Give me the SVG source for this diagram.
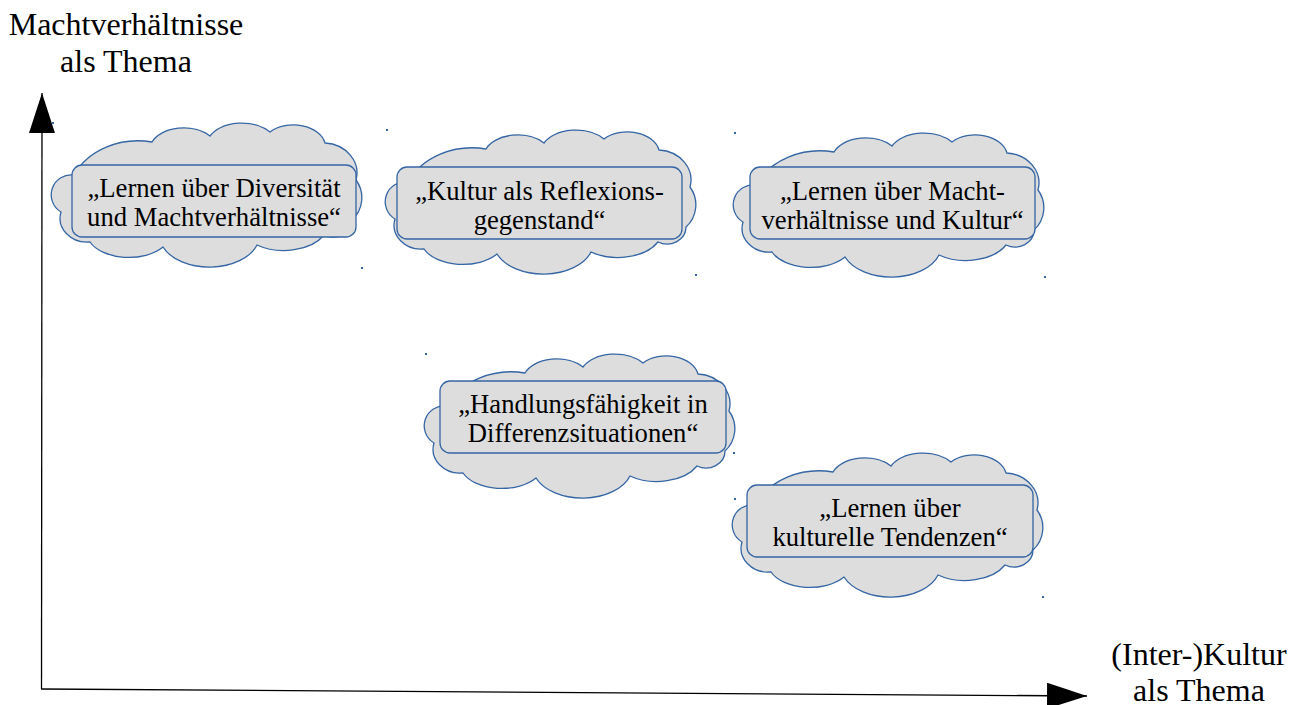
<svg xmlns="http://www.w3.org/2000/svg" xmlns:xlink="http://www.w3.org/1999/xlink" width="1301" height="705" viewBox="0 0 1301 705">
  <style>
    .cloud { fill: #dddddd; stroke: #3465a4; stroke-width: 1.3; }
    .box { fill: #dddddd; stroke: #3465a4; stroke-width: 1.3; }
    .t { font-family: "Liberation Serif", "Times New Roman", serif; font-size: 26.67px; text-anchor: middle; fill: #000; }
    .ax { font-family: "Liberation Serif", "Times New Roman", serif; font-size: 32px; text-anchor: middle; fill: #000; }
    .axis { fill: none; stroke: #000; stroke-width: 1.3; }
    .dot { fill: #3465a4; }
  </style>
  <defs>
    <path id="cloudShape" class="cloud" d="M22,50 A71,60 0 0 1 100,17 A34,22 0 0 1 158,11 A35,22 0 0 1 218,7 A32,22 0 0 1 273,18 A34,30 0 0 1 304,55 A30,30 0 0 1 300,95 A19,17 0 0 1 272,110 A45,28 0 0 1 205,120 A50,32 0 0 1 111,122 A42,25 0 0 1 38,117 A27,24 0 0 1 9,87 A20,20 0 0 1 22,50 Z"/>
    <marker id="arrow" markerUnits="userSpaceOnUse" markerWidth="40" markerHeight="26" viewBox="0 0 40 26" refX="40" refY="13" orient="auto">
      <path d="M0,0 L40,13 L0,26 Z" fill="#000"/>
    </marker>
  </defs>
  <rect width="1301" height="705" fill="#fff"/>

  <g id="connectors">
    <line class="axis" x1="41.5" y1="689" x2="42" y2="93" marker-end="url(#arrow)"/>
    <line class="axis" x1="41" y1="689" x2="1087" y2="696" marker-end="url(#arrow)"/>
  </g>

  <g id="axis-label-y">
    <text class="ax" x="126" y="35">Machtverhältnisse</text>
    <text class="ax" x="126" y="72">als Thema</text>
  </g>
  <g id="axis-label-x">
    <text class="ax" x="1199" y="665">(Inter-)Kultur</text>
    <text class="ax" x="1199" y="701">als Thema</text>
  </g>

  <g id="node1">
    <use xlink:href="#cloudShape" transform="translate(52,125)"/>
    <rect class="box" x="72" y="165" width="284" height="72" rx="10"/>
    <text class="t" x="214" y="197">„Lernen über Diversität</text>
    <text class="t" x="214" y="226">und Machtverhältnisse“</text>
    <rect class="dot" x="52" y="122" width="2" height="2"/>
    <rect class="dot" x="361" y="267" width="2" height="2"/>
  </g>

  <g id="node2">
    <use xlink:href="#cloudShape" transform="translate(386,132)"/>
    <rect class="box" x="397" y="167" width="285" height="72" rx="10"/>
    <text class="t" x="539.5" y="200">„Kultur als Reflexions-</text>
    <text class="t" x="539.5" y="229">gegenstand“</text>
    <rect class="dot" x="386" y="129" width="2" height="2"/>
    <rect class="dot" x="695" y="274" width="2" height="2"/>
  </g>

  <g id="node3">
    <use xlink:href="#cloudShape" transform="translate(734,135)"/>
    <rect class="box" x="750" y="167" width="285" height="72" rx="10"/>
    <text class="t" x="892.5" y="200">„Lernen über Macht-</text>
    <text class="t" x="892.5" y="229">verhältnisse und Kultur“</text>
    <rect class="dot" x="734" y="132" width="2" height="2"/>
    <rect class="dot" x="1044" y="276" width="2" height="2"/>
  </g>

  <g id="node4">
    <use xlink:href="#cloudShape" transform="translate(425,356)"/>
    <rect class="box" x="440" y="381" width="286" height="72" rx="10"/>
    <text class="t" x="583" y="413">„Handlungsfähigkeit in</text>
    <text class="t" x="583" y="442">Differenzsituationen“</text>
    <rect class="dot" x="425" y="353" width="2" height="2"/>
    <rect class="dot" x="734" y="498" width="2" height="2"/>
  </g>

  <g id="node5">
    <use xlink:href="#cloudShape" transform="translate(733,455)"/>
    <rect class="box" x="747" y="485" width="286" height="72" rx="10"/>
    <text class="t" x="890" y="517">„Lernen über</text>
    <text class="t" x="890" y="546">kulturelle Tendenzen“</text>
    <rect class="dot" x="733" y="452" width="2" height="2"/>
    <rect class="dot" x="1042" y="596" width="2" height="2"/>
  </g>
</svg>
